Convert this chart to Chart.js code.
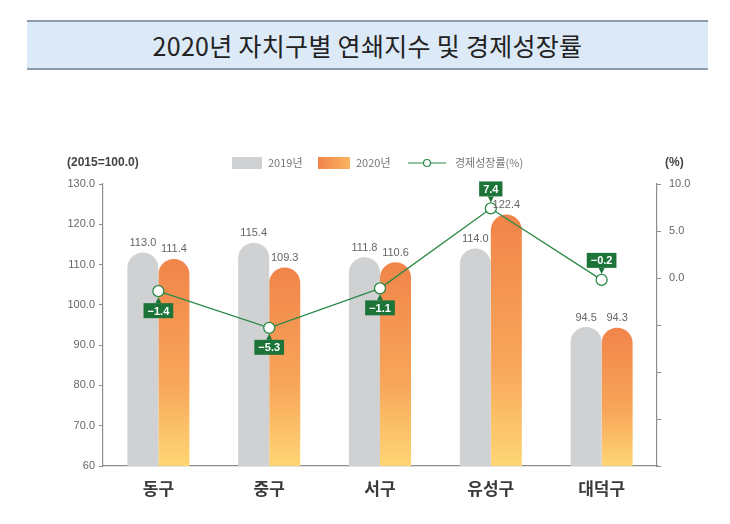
<!DOCTYPE html>
<html><head><meta charset="utf-8">
<script src="https://cdn.jsdelivr.net/npm/chart.js@4"></script>
<style>
html,body{margin:0;padding:0;background:#fff;width:730px;height:524px;overflow:hidden}
#title{position:absolute;left:27px;top:20px;width:681px;height:46px;background:#dce9f6;border-top:2px solid #8b9cad;border-bottom:2px solid #8b9cad;font:25px "Noto Sans CJK KR";color:#222;text-align:center;line-height:46px;letter-spacing:0.3px}
#wrap{position:absolute;left:0;top:0;width:730px;height:524px}
</style></head><body>
<div id="title">2020년 자치구별 연쇄지수 및 경제성장률</div>
<div id="wrap"><canvas id="c" width="730" height="524"></canvas></div>
<script>
const categories = ['동구', '중구', '서구', '유성구', '대덕구'];
const index2019 = [113.0, 115.4, 111.8, 114.0, 94.5];
const index2020 = [111.4, 109.3, 110.6, 122.4, 94.3];
const growthRate = [-1.4, -5.3, -1.1, 7.4, -0.2];
const seriesLabels = ['2019년', '2020년', '경제성장률(%)'];
const leftTitle = '(2015=100.0)';
const rightTitle = '(%)';
const rightLabelled = [0, 5, 10];

const NUM = '"Liberation Sans", "Noto Sans CJK KR", sans-serif';
const KR = '"Noto Sans CJK KR", sans-serif';
const GREEN = '#2b8a47';
const BOXGREEN = '#1d7438';
const GRAY = '#d0d1d3';

function orangeGrad(ctx) {
  const chart = ctx.chart; const ca = chart.chartArea;
  if (!ca || ctx.type !== 'data') return '#f4914f';
  const top = chart.scales.y.getPixelForValue(ctx.raw);
  const g = chart.ctx.createLinearGradient(0, top, 0, ca.bottom);
  g.addColorStop(0, '#f1844a');
  g.addColorStop(0.6, '#f8a65a');
  g.addColorStop(1, '#fed675');
  return g;
}

const labelPlugin = {
  id: 'labels',
  afterDatasetsDraw(chart) {
    const c = chart.ctx;
    c.save();
    [0, 1].forEach(di => {
      const meta = chart.getDatasetMeta(di);
      meta.data.forEach((el, i) => {
        const v = chart.data.datasets[di].data[i];
        c.font = '11px ' + NUM;
        c.fillStyle = '#666';
        c.textAlign = 'center';
        c.textBaseline = 'bottom';
        c.fillText(v.toFixed(1), el.x, el.y - 4);
      });
    });
    const lm = chart.getDatasetMeta(2);
    lm.data.forEach((el, i) => {
      const v = growthRate[i];
      const txt = (v < 0 ? '\u2212' : '') + Math.abs(v).toFixed(1);
      c.font = 'bold 11px ' + NUM;
      const w = c.measureText(txt).width + 8, h = 15, r = 6, tri = 6;
      const above = v > -1;
      let by;
      c.fillStyle = BOXGREEN;
      c.beginPath();
      if (above) {
        by = el.y - r - tri - h;
        c.moveTo(el.x - 3, by + h); c.lineTo(el.x, el.y - r); c.lineTo(el.x + 3, by + h);
      } else {
        by = el.y + r + tri;
        c.moveTo(el.x - 3, by); c.lineTo(el.x, el.y + r); c.lineTo(el.x + 3, by);
      }
      c.closePath(); c.fill();
      c.fillRect(el.x - w / 2, by, w, h);
      c.fillStyle = '#fff';
      c.textAlign = 'center'; c.textBaseline = 'middle';
      c.fillText(txt, el.x, by + h / 2 + 1);
    });
    c.restore();
  },
  afterDraw(chart) {
    const c = chart.ctx;
    c.save();
    c.font = 'bold 12px ' + NUM; c.fillStyle = '#444'; c.textBaseline = 'middle'; c.textAlign = 'left';
    c.fillText(leftTitle, 67, 163);
    c.fillText(rightTitle, 665, 163);
    c.font = '11px ' + KR;
    c.fillStyle = GRAY; c.fillRect(232, 157, 30, 12);
    c.fillStyle = '#777'; c.fillText(seriesLabels[0], 268, 163);
    const g = c.createLinearGradient(318, 0, 350, 0);
    g.addColorStop(0, '#f1844a'); g.addColorStop(1, '#fbb462');
    c.fillStyle = g; c.fillRect(318, 157, 32, 12);
    c.fillStyle = '#777'; c.fillText(seriesLabels[1], 356, 163);
    c.strokeStyle = GREEN; c.lineWidth = 1.2;
    c.beginPath(); c.moveTo(408, 163); c.lineTo(446, 163); c.stroke();
    c.beginPath(); c.arc(427, 163, 3.5, 0, Math.PI * 2); c.fillStyle = '#fff'; c.fill(); c.stroke();
    c.fillStyle = '#777'; c.fillText(seriesLabels[2], 455, 163);
    c.restore();
  }
};

new Chart(document.getElementById('c'), {
  data: {
    labels: categories,
    datasets: [
      { type: 'bar', label: seriesLabels[0], data: index2019, backgroundColor: GRAY, yAxisID: 'y', order: 1,
        borderRadius: { topLeft: 20, topRight: 20, bottomLeft: 0, bottomRight: 0 }, borderSkipped: 'bottom' },
      { type: 'bar', label: seriesLabels[1], data: index2020, backgroundColor: orangeGrad, yAxisID: 'y', order: 1,
        borderRadius: { topLeft: 20, topRight: 20, bottomLeft: 0, bottomRight: 0 }, borderSkipped: 'bottom' },
      { type: 'line', label: seriesLabels[2], data: growthRate, yAxisID: 'y2', order: 0,
        borderColor: GREEN, borderWidth: 1.3, pointRadius: 5.5, pointBackgroundColor: '#fff',
        pointBorderColor: GREEN, pointBorderWidth: 1.3, tension: 0 }
    ]
  },
  options: {
    responsive: false, animation: false, devicePixelRatio: 1,
    layout: { padding: { top: 184, left: 0, right: 0, bottom: 0 } },
    datasets: { bar: { barPercentage: 1, categoryPercentage: 0.56 } },
    plugins: { legend: { display: false }, tooltip: { enabled: false } },
    scales: {
      x: {
        grid: { display: false, drawTicks: false },
        border: { color: '#8c8c8c', width: 1.2 },
        ticks: { color: '#3a3a3a', font: { family: KR, size: 17, weight: 'bold' }, padding: 12 },
        afterFit(s) { s.height = 58; }
      },
      y: {
        position: 'left', min: 60, max: 130,
        grid: { drawOnChartArea: false, tickLength: 4, color: '#8c8c8c' },
        border: { color: '#8c8c8c', width: 1.2 },
        ticks: { stepSize: 10, color: '#666', font: { family: NUM, size: 11 }, padding: 4,
          callback: v => v === 60 ? '60' : v.toFixed(1) },
        afterFit(s) { s.width = 103; }
      },
      y2: {
        position: 'right', min: -20, max: 10,
        grid: { drawOnChartArea: false, tickLength: 4, color: '#8c8c8c' },
        border: { color: '#8c8c8c', width: 1.2 },
        ticks: { stepSize: 5, color: '#666', font: { family: NUM, size: 11 }, padding: 8,
          callback: v => rightLabelled.includes(v) ? v.toFixed(1) : '' },
        afterFit(s) { s.width = 73; }
      }
    }
  },
  plugins: [labelPlugin]
});
</script>
</body></html>
